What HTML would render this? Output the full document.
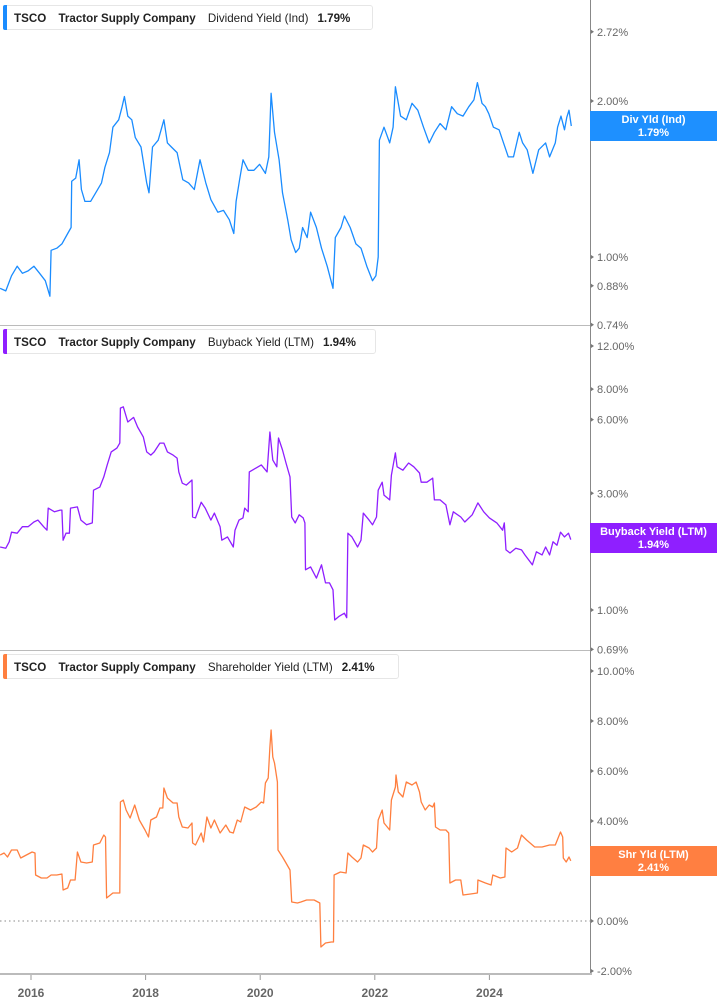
<!DOCTYPE html>
<html><head><meta charset="utf-8">
<style>
body{margin:0;background:#fff;font-family:"Liberation Sans",Arial,sans-serif;}
#wrap{position:relative;width:717px;height:1005px;overflow:hidden;}
.legend{position:absolute;left:3px;height:25px;border:1px solid #e6e6e6;border-radius:3px;background:#fff;font-size:11.6px;line-height:25px;color:#222;white-space:nowrap;box-sizing:border-box;padding-left:10px;}
.legend .bar{position:absolute;left:-1px;top:-1px;width:4px;height:25px;border-radius:2px 0 0 2px;}
.legend b{font-weight:bold;}
.legend span{margin-right:9px;}
.badge{position:absolute;left:590px;width:127px;color:#fff;font-size:11px;font-weight:bold;text-align:center;line-height:13px;padding-top:3px;box-sizing:border-box;}
</style></head><body>
<div id="wrap">
<svg id="chart" width="717" height="1005" style="position:absolute;left:0;top:0"></svg>
<div class="legend" style="top:5px;width:370px"><div class="bar" style="background:#1a8cff"></div><span><b>TSCO</b></span> <span><b>Tractor Supply Company</b></span> <span>Dividend Yield (Ind)</span><b>1.79%</b></div>
<div class="legend" style="top:329px;width:373px"><div class="bar" style="background:#8f1fff"></div><span><b>TSCO</b></span> <span><b>Tractor Supply Company</b></span> <span>Buyback Yield (LTM)</span><b>1.94%</b></div>
<div class="legend" style="top:654px;width:396px"><div class="bar" style="background:#ff7f3f"></div><span><b>TSCO</b></span> <span><b>Tractor Supply Company</b></span> <span>Shareholder Yield (LTM)</span><b>2.41%</b></div>
<div class="badge" style="top:111px;height:30px;background:#1e90ff">Div Yld (Ind)<br>1.79%</div>
<div class="badge" style="top:523px;height:30px;background:#8f1fff">Buyback Yield (LTM)<br>1.94%</div>
<div class="badge" style="top:846px;height:30px;background:#ff7f41">Shr Yld (LTM)<br>2.41%</div>
</div>
<script>
const divDates=[2015.46,2015.56,2015.66,2015.76,2015.85,2015.95,2016.05,2016.15,2016.25,2016.33,2016.35,2016.45,2016.54,2016.64,2016.70,2016.71,2016.78,2016.84,2016.88,2016.94,2017.04,2017.13,2017.23,2017.29,2017.37,2017.43,2017.53,2017.59,2017.63,2017.69,2017.76,2017.82,2017.92,2018.02,2018.06,2018.12,2018.22,2018.32,2018.38,2018.45,2018.55,2018.65,2018.75,2018.85,2018.95,2019.05,2019.14,2019.26,2019.36,2019.46,2019.54,2019.58,2019.64,2019.70,2019.79,2019.89,2019.99,2020.09,2020.15,2020.19,2020.25,2020.33,2020.39,2020.48,2020.54,2020.62,2020.68,2020.74,2020.82,2020.88,2020.98,2021.07,2021.17,2021.27,2021.31,2021.41,2021.47,2021.57,2021.67,2021.76,2021.86,2021.96,2022.02,2022.06,2022.08,2022.16,2022.26,2022.32,2022.36,2022.45,2022.55,2022.65,2022.75,2022.85,2022.95,2023.04,2023.14,2023.24,2023.34,2023.44,2023.54,2023.64,2023.73,2023.79,2023.87,2023.93,2023.99,2024.07,2024.17,2024.23,2024.33,2024.42,2024.52,2024.58,2024.66,2024.76,2024.86,2024.98,2025.05,2025.15,2025.19,2025.25,2025.31,2025.35,2025.39,2025.43];
const divValues=[0.87,0.86,0.92,0.96,0.93,0.94,0.96,0.93,0.90,0.84,1.03,1.04,1.06,1.11,1.14,1.40,1.42,1.54,1.35,1.28,1.28,1.33,1.39,1.49,1.59,1.78,1.84,1.95,2.04,1.87,1.84,1.70,1.63,1.39,1.33,1.63,1.68,1.84,1.66,1.63,1.59,1.41,1.39,1.35,1.54,1.39,1.29,1.22,1.23,1.18,1.11,1.28,1.41,1.54,1.47,1.47,1.51,1.45,1.56,2.07,1.74,1.54,1.33,1.18,1.08,1.02,1.04,1.14,1.09,1.22,1.14,1.04,0.96,0.87,1.09,1.14,1.20,1.14,1.06,1.04,0.96,0.90,0.92,1.00,1.68,1.78,1.66,1.78,2.13,1.87,1.84,1.98,1.92,1.78,1.66,1.74,1.81,1.76,1.95,1.89,1.87,1.95,2.01,2.17,1.98,1.95,1.89,1.78,1.76,1.68,1.56,1.56,1.74,1.66,1.61,1.45,1.61,1.66,1.56,1.66,1.78,1.87,1.76,1.86,1.92,1.79];
const bbDates=[2015.46,2015.56,2015.62,2015.66,2015.76,2015.85,2015.95,2016.05,2016.12,2016.22,2016.28,2016.30,2016.41,2016.51,2016.54,2016.56,2016.61,2016.67,2016.69,2016.81,2016.87,2016.97,2017.07,2017.09,2017.20,2017.27,2017.33,2017.40,2017.50,2017.55,2017.56,2017.61,2017.69,2017.79,2017.86,2017.96,2018.02,2018.09,2018.15,2018.25,2018.32,2018.38,2018.48,2018.55,2018.58,2018.64,2018.71,2018.81,2018.82,2018.87,2018.97,2019.04,2019.14,2019.20,2019.30,2019.33,2019.43,2019.53,2019.56,2019.63,2019.70,2019.73,2019.79,2019.81,2019.93,2020.02,2020.12,2020.17,2020.22,2020.29,2020.32,2020.39,2020.45,2020.52,2020.55,2020.61,2020.68,2020.75,2020.78,2020.79,2020.88,2020.98,2021.07,2021.14,2021.21,2021.27,2021.30,2021.37,2021.47,2021.51,2021.53,2021.60,2021.70,2021.76,2021.80,2021.90,2021.96,2022.03,2022.06,2022.13,2022.16,2022.26,2022.29,2022.36,2022.39,2022.49,2022.59,2022.68,2022.78,2022.81,2022.91,2023.01,2023.04,2023.14,2023.24,2023.31,2023.37,2023.50,2023.57,2023.70,2023.80,2023.90,2024.00,2024.13,2024.23,2024.26,2024.29,2024.36,2024.46,2024.56,2024.62,2024.75,2024.82,2024.92,2024.98,2025.05,2025.11,2025.18,2025.24,2025.31,2025.38,2025.42];
const bbValues=[1.81,1.79,1.90,2.08,2.06,2.19,2.19,2.29,2.33,2.19,2.12,2.61,2.52,2.56,2.56,1.93,2.06,2.06,2.61,2.64,2.33,2.23,2.27,3.09,3.18,3.50,3.92,4.43,4.59,4.81,6.69,6.77,5.87,6.13,5.60,5.10,4.43,4.30,4.43,4.81,4.81,4.43,4.30,4.18,3.67,3.30,3.24,3.40,2.40,2.38,2.76,2.61,2.33,2.49,2.19,1.93,1.99,1.81,2.12,2.33,2.38,2.61,2.52,3.67,3.81,3.92,3.67,5.34,4.10,3.85,5.05,4.51,3.99,3.50,2.40,2.27,2.45,2.38,2.27,1.46,1.50,1.35,1.53,1.29,1.29,1.21,0.91,0.94,0.97,0.93,2.06,1.99,1.81,1.93,2.49,2.33,2.23,2.40,3.09,3.33,2.95,2.82,3.56,4.39,3.85,3.73,3.99,3.85,3.63,3.33,3.33,3.46,2.82,2.82,2.69,2.23,2.52,2.40,2.29,2.45,2.74,2.52,2.38,2.27,2.12,2.27,1.76,1.71,1.79,1.76,1.68,1.53,1.73,1.68,1.81,1.68,1.90,1.84,2.08,1.99,2.06,1.94];
const shDates=[2015.46,2015.53,2015.59,2015.66,2015.76,2015.82,2015.92,2016.02,2016.07,2016.08,2016.18,2016.28,2016.35,2016.45,2016.54,2016.56,2016.64,2016.69,2016.77,2016.81,2016.87,2016.97,2017.07,2017.09,2017.20,2017.27,2017.30,2017.32,2017.43,2017.55,2017.56,2017.61,2017.66,2017.73,2017.81,2017.89,2017.99,2018.05,2018.09,2018.19,2018.25,2018.30,2018.32,2018.38,2018.48,2018.55,2018.58,2018.64,2018.74,2018.81,2018.82,2018.87,2018.97,2019.01,2019.07,2019.14,2019.20,2019.30,2019.40,2019.47,2019.53,2019.60,2019.66,2019.73,2019.83,2019.93,2020.02,2020.06,2020.09,2020.14,2020.17,2020.19,2020.22,2020.25,2020.30,2020.31,2020.39,2020.45,2020.52,2020.55,2020.65,2020.71,2020.81,2020.94,2021.04,2021.06,2021.14,2021.24,2021.28,2021.29,2021.40,2021.50,2021.53,2021.60,2021.70,2021.76,2021.80,2021.90,2021.96,2022.03,2022.06,2022.13,2022.16,2022.26,2022.29,2022.36,2022.37,2022.41,2022.49,2022.55,2022.65,2022.72,2022.78,2022.81,2022.88,2022.95,2023.01,2023.04,2023.06,2023.14,2023.24,2023.29,2023.31,2023.41,2023.50,2023.54,2023.67,2023.79,2023.80,2023.93,2024.03,2024.06,2024.19,2024.27,2024.29,2024.39,2024.49,2024.56,2024.65,2024.79,2024.92,2025.05,2025.15,2025.24,2025.28,2025.29,2025.34,2025.39,2025.42];
const shValues=[2.64,2.72,2.56,2.84,2.84,2.52,2.64,2.76,2.72,1.84,1.72,1.72,1.84,1.84,1.88,1.24,1.32,1.64,1.64,2.76,2.36,2.32,2.36,3.04,3.12,3.44,3.36,0.92,1.12,1.12,4.76,4.84,4.44,4.12,4.64,4.04,3.64,3.36,4.04,4.16,4.52,4.52,5.32,4.92,4.72,4.72,4.16,3.76,3.72,3.92,3.12,3.04,3.52,3.16,4.16,3.72,4.04,3.52,3.84,3.56,3.52,4.04,3.96,4.56,4.44,4.56,4.76,4.72,5.52,5.72,6.96,7.64,6.56,6.32,5.56,2.84,2.56,2.32,2.04,0.76,0.72,0.76,0.84,0.84,0.72,-1.04,-0.88,-0.84,-0.84,1.84,1.96,1.92,2.72,2.56,2.36,2.52,3.04,2.92,2.76,2.92,4.04,4.44,3.92,3.64,4.84,5.36,5.84,5.16,4.96,5.56,5.44,5.56,5.16,4.76,4.44,4.64,4.56,4.72,3.76,3.64,3.64,3.52,1.52,1.64,1.64,1.04,1.08,1.12,1.64,1.52,1.44,1.84,1.72,1.76,2.92,2.76,2.92,3.44,3.24,2.96,2.96,3.04,3.04,3.56,3.36,2.52,2.36,2.56,2.41];
const xTickYears=[2016,2018,2020,2022,2024];
const divTicks=[2.72,2.00,1.00,0.88,0.74];
const bbTicks=[12,8,6,3,1,0.69];
const shTicks=[10,8,6,4,2,0,-2];

const NS='http://www.w3.org/2000/svg';
const svg=document.getElementById('chart');
const X=y=>31+(y-2016)*57.3;
const Ydiv=v=>101-Math.log2(v/2)*156;
const Ybb=v=>610-Math.log10(v)*244.6;
const Ysh=v=>921-v*25;
function mk(tag,at){const e=document.createElementNS(NS,tag);for(const k in at)e.setAttribute(k,at[k]);svg.appendChild(e);return e;}

let l=mk('line',{x1:0,y1:325.5,x2:590,y2:325.5,stroke:'#bbb','stroke-width':1});


l=mk('line',{x1:0,y1:650.5,x2:590,y2:650.5,stroke:'#bbb','stroke-width':1});


l=mk('line',{x1:0,y1:921,x2:590,y2:921,stroke:'#888','stroke-width':1,'stroke-dasharray':'1.5,3'});


l=mk('line',{x1:590.5,y1:0,x2:590.5,y2:975,stroke:'#888','stroke-width':1});


l=mk('line',{x1:0,y1:974,x2:592,y2:974,stroke:'#bbb','stroke-width':2});



function yTicks(ticks,Yf,fmt,name){
  ticks.forEach(t=>{
    const y=Yf(t);
    const p=mk('path',{d:`M591 ${y-2} L594 ${y} L591 ${y+2} Z`,fill:'#777'});
    
    
    const tx=mk('text',{x:597,y:y+4,'font-size':11,fill:'#666','font-family':'Liberation Sans, sans-serif'});
    tx.textContent=fmt(t);
    
    
  });
}
yTicks(divTicks,Ydiv,t=>t.toFixed(2)+'%','div-y-axis');
yTicks(bbTicks,Ybb,t=>t.toFixed(2)+'%','buyback-y-axis');
yTicks(shTicks,Ysh,t=>t.toFixed(2)+'%','shareholder-y-axis');

xTickYears.forEach(yr=>{
  const x=X(yr);
  const t=mk('line',{x1:x,y1:975,x2:x,y2:980,stroke:'#999','stroke-width':1});
  
  
  const tx=mk('text',{x:x,y:997,'font-size':12,'font-weight':'bold',fill:'#666','text-anchor':'middle','font-family':'Liberation Sans, sans-serif'});
  tx.textContent=yr;
  
  
});

function series(dates,vals,Yf,color,name){
  const d=dates.map((t,i)=>(i?'L':'M')+X(t).toFixed(1)+' '+Yf(vals[i]).toFixed(1)).join(' ');
  const p=mk('path',{d:d,fill:'none',stroke:color,'stroke-width':1.3,'stroke-linejoin':'round'});
  
  
}
series(divDates,divValues,Ydiv,'#1a8cff','dividend-yield-line');
series(bbDates,bbValues,Ybb,'#8f1fff','buyback-yield-line');
series(shDates,shValues,Ysh,'#ff7f3f','shareholder-yield-line');
</script>
</body></html>
